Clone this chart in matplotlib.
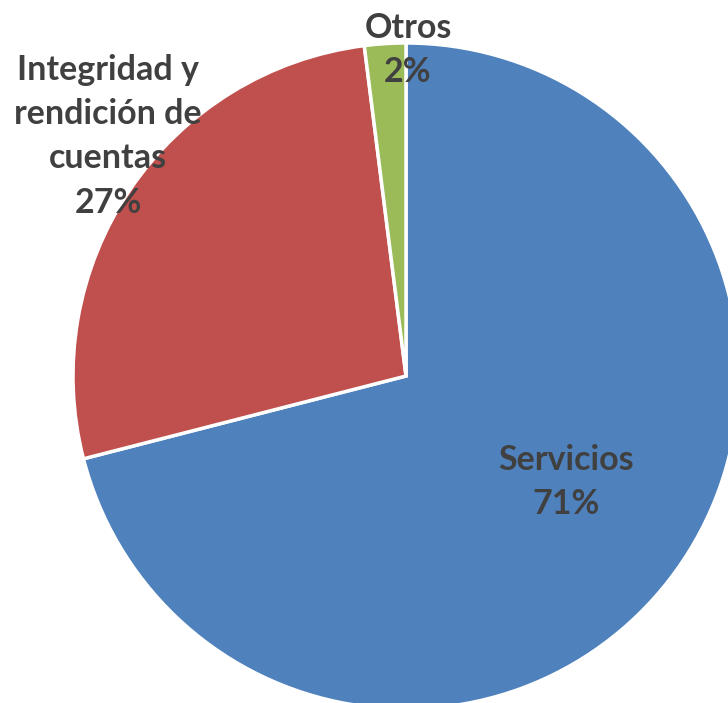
import matplotlib.pyplot as plt

# Data
labels = ['Servicios', 'Integridad y\nrendición de\ncuentas', 'Otros']
values = [71, 27, 2]
colors = ['#4F81BD', '#C0504D', '#9BBB59']

# label anchor positions (in units of pie radius)
label_pos = [(0.48, -0.318), (-0.895, 0.72), (0.006, 0.979)]

fig = plt.figure(figsize=(7.28, 7.03), dpi=100)
ax = fig.add_axes([0, 0, 1, 1])

ax.pie(values, colors=colors, startangle=90, counterclock=False,
       radius=1.0, center=(0, 0), frame=True,
       wedgeprops=dict(edgecolor='white', linewidth=2.5))

# pixel mapping: center at (406, 376), radius 333 px
r = 333.0
ax.set_xlim(-406 / r, (728 - 406) / r)
ax.set_ylim(-(703 - 376) / r, 376 / r)
ax.set_aspect('auto')
ax.axis('off')

for lab, val, (x, y) in zip(labels, values, label_pos):
    ax.text(x, y, f'{lab}\n{val}%', ha='center', va='center',
            fontsize=24.5, fontweight='bold', family='Lato',
            color='#404040', linespacing=1.48)

plt.savefig('out.png', dpi=100)
